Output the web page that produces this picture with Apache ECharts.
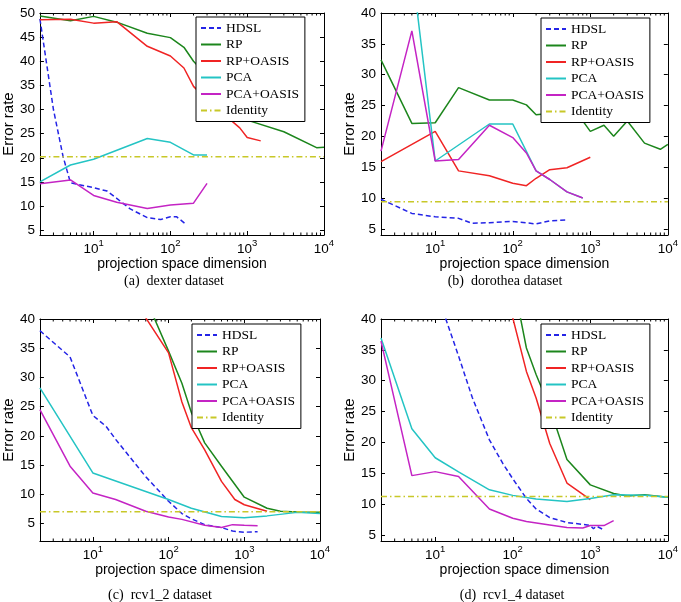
<!DOCTYPE html>
<html>
<head>
<meta charset="utf-8">
<script src="https://cdn.jsdelivr.net/npm/echarts@6/dist/echarts.min.js"></script>
<style>
  html, body { margin: 0; padding: 0; background: #fff; }
  #chart { width: 681px; height: 602px; }
</style>
</head>
<body>
<div id="chart"></div>
<script>
// series names, legend order
const seriesNames = ['HDSL', 'RP', 'RP+OASIS', 'PCA', 'PCA+OASIS', 'Identity']
const captions = ['(a)  dexter dataset', '(b)  dorothea dataset', '(c)  rcv1_2 dataset', '(d)  rcv1_4 dataset']
const xRange = [2, 10000]
const yRanges = [[4, 50], [4, 40], [2, 40], [4, 40]]
const identityLevels = [20.2, 9.4, 7.0, 11.2]
// log axis minor ticks (2..9 x 10^k)
const minorTicks = [3, 4, 5, 6, 7, 8, 9, 20, 30, 40, 50, 60, 70, 80, 90,
  200, 300, 400, 500, 600, 700, 800, 900, 2000, 3000, 4000, 5000, 6000, 7000, 8000, 9000]

// (a) dexter  [dimension, error rate]
const dexterHDSL = [[2, 48.8], [3, 30], [4, 20.3], [5, 14.8], [10, 13.8], [15, 13.1], [20, 11.6], [30, 9.4], [50, 7.6], [75, 7.2], [100, 7.8], [120, 7.8], [160, 6.2]]
const dexterRP = [[2, 49.4], [5, 48.4], [10, 49.3], [20, 48.1], [50, 45.8], [100, 44.9], [150, 42.9], [200, 40.0], [300, 37], [500, 33], [1000, 27.8], [3000, 25.4], [8000, 22.1], [10000, 22.2]]
const dexterRPO = [[2, 48.6], [5, 48.7], [10, 47.9], [20, 48.2], [50, 43.1], [100, 41.1], [150, 38.6], [200, 34.8], [300, 32], [500, 29], [800, 26.2], [1000, 24.2], [1500, 23.5]]
const dexterPCA = [[2, 15.0], [5, 18.5], [10, 19.7], [50, 24.0], [100, 23.2], [200, 20.6], [300, 20.6]]
const dexterPCAO = [[2, 14.6], [5, 15.4], [10, 12.2], [20, 10.8], [50, 9.5], [100, 10.2], [200, 10.6], [300, 14.7]]

// (b) dorothea
const dorotheaHDSL = [[2, 9.8], [5, 7.5], [10, 6.95], [20, 6.7], [30, 5.9], [50, 6.0], [100, 6.2], [200, 5.8], [300, 6.3], [500, 6.45]]
const dorotheaRP = [[2, 32.4], [5, 22.1], [10, 22.2], [20, 27.9], [50, 25.9], [100, 25.9], [150, 25.1], [200, 23.5], [500, 24.0], [750, 23.0], [1000, 20.8], [1500, 21.8], [2000, 20.0], [3000, 22.5], [5000, 18.9], [8000, 17.9], [10000, 18.7]]
const dorotheaRPO = [[2, 15.9], [10, 20.8], [20, 14.4], [50, 13.6], [100, 12.4], [150, 12.0], [200, 13.2], [300, 14.6], [500, 14.9], [1000, 16.6]]
const dorotheaPCA = [[2, 48], [5, 47.5], [10, 16.0], [50, 22.0], [100, 22.0], [200, 14.4], [300, 13.0], [500, 11.0], [800, 10.0]]
const dorotheaPCAO = [[2, 17.6], [5, 37.1], [10, 16.0], [20, 16.25], [50, 21.8], [100, 19.8], [150, 17.3], [200, 14.4], [300, 13.0], [500, 11.0], [800, 10.0]]

// (c) rcv1_2
const rcv12HDSL = [[2, 38], [5, 33.5], [10, 23.5], [15, 21.6], [20, 19.4], [50, 13.0], [100, 8.8], [150, 6.7], [200, 5.8], [300, 4.8], [500, 4.3], [700, 3.7], [1000, 3.5], [1500, 3.6]]
const rcv12RP = [[50, 43.5], [100, 34.5], [150, 29.0], [200, 24.0], [300, 18.8], [500, 14.8], [1000, 9.5], [2000, 7.6], [3000, 7.1], [5000, 6.95], [10000, 6.9]]
const rcv12RPO = [[50, 40.2], [100, 34.2], [150, 25.8], [200, 21.4], [300, 17.6], [500, 12.2], [750, 9.1], [1000, 8.2], [2000, 7.1]]
const rcv12PCA = [[2, 28.2], [10, 13.65], [100, 9.1], [200, 7.6], [500, 6.2], [1000, 6.0], [2000, 6.3], [5000, 6.9], [10000, 6.7]]
const rcv12PCAO = [[2, 24.5], [5, 14.8], [10, 10.2], [20, 9.1], [50, 7.1], [100, 6.1], [150, 5.7], [300, 4.7], [500, 4.3], [700, 4.8], [1000, 4.7], [1500, 4.6]]

// (d) rcv1_4
const rcv14HDSL = [[10, 45], [20, 34], [30, 27.3], [50, 20.4], [75, 16.5], [100, 14.1], [150, 10.9], [200, 9.2], [300, 7.8], [500, 7.0], [800, 6.7], [1000, 6.5], [1100, 6.0], [1200, 6.4], [1500, 5.8]]
const rcv14RP = [[100, 46.5], [150, 35.3], [200, 31.0], [300, 25.6], [500, 17.2], [1000, 13.1], [2000, 11.7], [3000, 11.3], [5000, 11.5], [10000, 11.1]]
const rcv14RPO = [[100, 40.2], [150, 31.5], [200, 27.2], [300, 19.8], [500, 13.4], [1000, 10.7]]
const rcv14PCA = [[2, 36.9], [5, 22.2], [10, 17.5], [20, 15.2], [50, 12.3], [100, 11.4], [200, 10.8], [500, 10.4], [1000, 10.9], [2000, 11.5], [5000, 11.4], [10000, 11.1]]
const rcv14PCAO = [[2, 36.4], [5, 14.6], [10, 15.25], [20, 14.45], [50, 9.2], [100, 7.7], [150, 7.15], [300, 6.6], [500, 6.2], [800, 6.1], [1000, 6.5], [1500, 6.5], [2000, 7.3]]

const panelData = [
  [dexterHDSL, dexterRP, dexterRPO, dexterPCA, dexterPCAO],
  [dorotheaHDSL, dorotheaRP, dorotheaRPO, dorotheaPCA, dorotheaPCAO],
  [rcv12HDSL, rcv12RP, rcv12RPO, rcv12PCA, rcv12PCAO],
  [rcv14HDSL, rcv14RP, rcv14RPO, rcv14PCA, rcv14PCAO]
]

// layout (pixels)
const grids = [
  {left: 36, top: 13, width: 288, height: 222},
  {left: 381, top: 13, width: 288, height: 222},
  {left: 33, top: 319, width: 287, height: 222},
  {left: 381, top: 319, width: 288, height: 222}
]
const legendPos = [[196, 17], [541, 18], [192, 324], [541, 324]]
const captionPos = [[174, 281], [505, 281], [160, 595], [512, 595]]

const colors = ['#2424e6', '#1c861c', '#f02424', '#24c4c4', '#c424c4', '#c8c828']
const dashes = [[5, 3], 'solid', 'solid', 'solid', 'solid', [6, 3, 1.5, 3]]
const sans = '"Liberation Sans", Arial, sans-serif'
const serif = '"Liberation Serif", "Times New Roman", serif'

function logLabel (v) {
  let e = Math.log10(v)
  let r = Math.round(e)
  if (Math.abs(e - r) > 1e-6) return ''
  return '{b|10}{s|' + r + '}'
}

let xAxis = []
let yAxis = []
let series = []
let legend = []
let graphic = []

grids.forEach(function (g, i) {
  let yr = yRanges[i]
  xAxis.push({
    gridIndex: i, type: 'log', logBase: 10, min: xRange[0], max: xRange[1], position: 'bottom',
    axisLine: {show: true, onZero: false, lineStyle: {color: '#000', width: 1}},
    axisTick: {show: true, inside: true, length: 4, lineStyle: {color: '#000'}},
    splitLine: {show: false},
    axisLabel: {
      margin: 3,
      formatter: logLabel,
      rich: {
        b: {fontSize: 13.5, fontFamily: sans, color: '#000', lineHeight: 18, verticalAlign: 'bottom'},
        s: {fontSize: 9.5, fontFamily: sans, color: '#000', lineHeight: 18, verticalAlign: 'top'}
      }
    },
    name: 'projection space dimension', nameLocation: 'middle', nameGap: 20,
    nameTextStyle: {fontSize: 14, fontFamily: sans, color: '#000'}
  })
  xAxis.push({
    gridIndex: i, type: 'log', logBase: 10, min: xRange[0], max: xRange[1], position: 'top',
    axisLine: {show: true, onZero: false, lineStyle: {color: '#000', width: 1}},
    axisTick: {show: true, inside: true, length: 4, lineStyle: {color: '#000'}},
    axisLabel: {show: false}, splitLine: {show: false}
  })
  yAxis.push({
    gridIndex: i, type: 'value', min: yr[0], max: yr[1], splitNumber: 8, position: 'left',
    axisLine: {show: true, onZero: false, lineStyle: {color: '#000', width: 1}},
    axisTick: {show: true, inside: true, length: 4, lineStyle: {color: '#000'}},
    splitLine: {show: false},
    axisLabel: {
      margin: 5, fontSize: 13.5, fontFamily: sans, color: '#000',
      formatter: function (v) { return v % 5 === 0 ? String(v) : '' }
    },
    name: 'Error rate', nameLocation: 'middle', nameGap: 22,
    nameTextStyle: {fontSize: 15, fontFamily: sans, color: '#000'}
  })
  yAxis.push({
    gridIndex: i, type: 'value', min: yr[0], max: yr[1], splitNumber: 8, position: 'right',
    axisLine: {show: true, onZero: false, lineStyle: {color: '#000', width: 1}},
    axisTick: {show: true, inside: true, length: 4, lineStyle: {color: '#000'}},
    axisLabel: {show: false}, splitLine: {show: false}
  })

  let lines = panelData[i].concat([[[xRange[0], identityLevels[i]], [xRange[1], identityLevels[i]]]])
  lines.forEach(function (d, k) {
    series.push({
      type: 'line', name: seriesNames[k], xAxisIndex: 2 * i, yAxisIndex: 2 * i,
      data: d, showSymbol: false, symbol: 'none', clip: true,
      lineStyle: {color: colors[k], width: 1.5, type: dashes[k]},
      itemStyle: {color: colors[k]}
    })
  })

  // minor ticks on bottom/top of the log axis
  series.push({
    type: 'custom', xAxisIndex: 2 * i, yAxisIndex: 2 * i, silent: true,
    data: minorTicks.map(function (v) { return [v, yr[0]] }),
    renderItem: function (params, api) {
      let b = api.coord([api.value(0), yr[0]])
      let t = api.coord([api.value(0), yr[1]])
      return {
        type: 'group',
        children: [
          {type: 'line', shape: {x1: b[0], y1: b[1], x2: b[0], y2: b[1] - 2.5}, style: {stroke: '#000', lineWidth: 1}},
          {type: 'line', shape: {x1: t[0], y1: t[1], x2: t[0], y2: t[1] + 2.5}, style: {stroke: '#000', lineWidth: 1}}
        ]
      }
    }
  })

  legend.push({
    orient: 'vertical', left: legendPos[i][0], top: legendPos[i][1],
    itemWidth: 20, itemHeight: 12, itemGap: 2.5, padding: [4, 6, 4, 4],
    borderColor: '#000', borderWidth: 1, backgroundColor: '#fff', z: 10,
    // only the line sample, no marker
    itemStyle: {color: 'rgba(0,0,0,0)', borderWidth: 0, opacity: 0},
    textStyle: {fontFamily: serif, fontSize: 13.5, color: '#000', lineHeight: 14},
    data: seriesNames
  })

  graphic.push({
    type: 'text', x: captionPos[i][0], y: captionPos[i][1],
    style: {text: captions[i], font: '14px ' + serif, fill: '#000', textAlign: 'center', textVerticalAlign: 'middle'}
  })
})

let chart = echarts.init(document.getElementById('chart'))
chart.setOption({
  animation: false,
  backgroundColor: '#fff',
  grid: grids,
  xAxis: xAxis,
  yAxis: yAxis,
  legend: legend,
  series: series,
  graphic: graphic
})
</script>
</body>
</html>
